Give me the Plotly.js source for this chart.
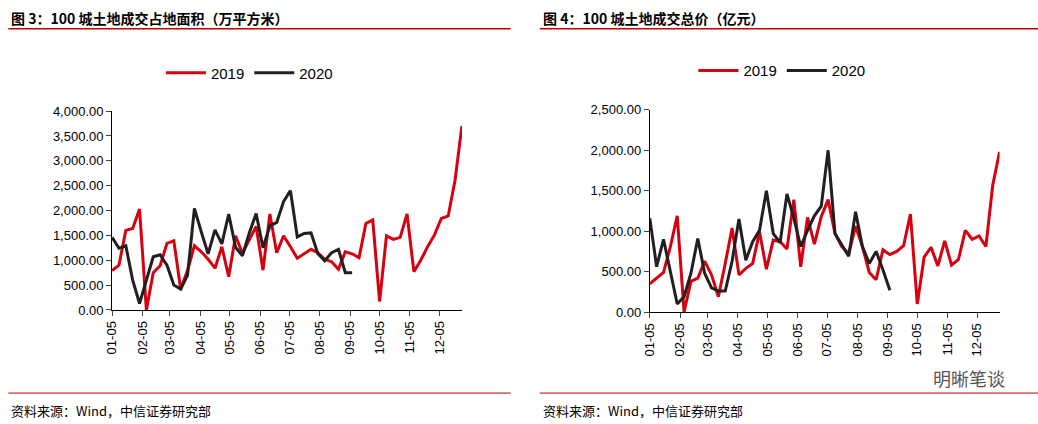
<!DOCTYPE html>
<html><head><meta charset="utf-8">
<script src="https://cdn.plot.ly/plotly-3.0.1.min.js"></script>
<style>body{margin:0;background:#fff}#c{width:1038px;height:424px}</style>
</head><body><div id="c"></div>
<script>
// 100城土地成交占地面积（万平方米），周度
var area2019 = [790,900,1600,1640,2030,0,750,890,1340,1390,420,800,1290,1170,1020,840,1270,670,1490,1140,1410,1680,800,1930,1150,1490,1270,1040,1130,1220,1150,1020,970,820,1170,1130,1050,1740,1810,170,1490,1420,1460,1930,770,1000,1270,1510,1840,1890,2610,3700];
var area2020 = [1460,1240,1290,600,130,600,1070,1110,900,500,420,700,2040,1570,1130,1610,1330,1930,1260,1090,1550,1940,1250,1690,1760,2180,2400,1470,1540,1550,1130,990,1150,1220,750,750];
// 100城土地成交总价（亿元）
var price2019 = [350,420,490,810,1190,0,380,420,630,460,190,600,1040,460,540,600,990,530,890,870,780,1390,560,1170,840,1180,1390,970,810,720,1060,810,490,400,770,710,750,820,1210,100,680,800,570,880,580,650,1010,900,940,810,1570,1980];
var price2020 = [1160,560,900,520,100,190,480,910,480,300,260,260,630,1150,640,870,1010,1500,970,860,1460,1160,810,1010,1190,1310,2000,970,830,690,1240,810,600,750,520,270];
var tickText = ['01-05','02-05','03-05','04-05','05-05','06-05','07-05','08-05','09-05','10-05','11-05','12-05'];

function weeks(n) {
  var out = [];
  for (var i = 0; i < n; i++) {
    var d = new Date(Date.UTC(2019, 0, 5 + 7 * i));
    out.push(d.toISOString().slice(0, 10));
  }
  return out;
}
var tickVals = tickText.map(function (t) { return '2019-' + t; });

var red = '#d7000f', black = '#231f20';
var font = {family: 'Arial, Liberation Sans, sans-serif', size: 13, color: '#000'};

function xaxis(dom) {
  return {domain: dom, type: 'date', range: ['2019-01-05', '2019-12-28'],
    tickvals: tickVals, ticktext: tickText, tickangle: -90, ticks: 'outside', ticklen: 5,
    showgrid: false, zeroline: false, showline: true, linecolor: '#000', linewidth: 1, tickfont: font};
}
function yaxis(dom, max, dt, anchor) {
  return {domain: dom, range: [0, max], dtick: dt, tickformat: ',.2f', ticks: 'outside', ticklen: 5,
    showgrid: false, zeroline: false, showline: true, linecolor: '#000', linewidth: 1, tickfont: font, anchor: anchor};
}

var ln = {width: 3};
var data = [
  {x: weeks(52), y: area2019, name: '2019', mode: 'lines', line: {color: red, width: 3}, xaxis: 'x', yaxis: 'y', legend: 'legend'},
  {x: weeks(36), y: area2020, name: '2020', mode: 'lines', line: {color: black, width: 3}, xaxis: 'x', yaxis: 'y', legend: 'legend'},
  {x: weeks(52), y: price2019, name: '2019', mode: 'lines', line: {color: red, width: 3}, xaxis: 'x2', yaxis: 'y2', legend: 'legend2'},
  {x: weeks(36), y: price2020, name: '2020', mode: 'lines', line: {color: black, width: 3}, xaxis: 'x2', yaxis: 'y2', legend: 'legend2'}
];

var legBase = {orientation: 'h', yanchor: 'middle', xanchor: 'left', font: {family: 'Arial, Liberation Sans, sans-serif', size: 15, color: '#000'}, bgcolor: 'rgba(0,0,0,0)', itemwidth: 40};
var layout = {
  width: 1038, height: 424, margin: {l: 0, r: 0, t: 0, b: 0},
  paper_bgcolor: '#fff', plot_bgcolor: '#fff', showlegend: true,
  xaxis: Object.assign(xaxis([0.108, 0.445]), {anchor: 'y'}),
  yaxis: yaxis([0.269, 0.738], 4000, 500, 'x'),
  xaxis2: Object.assign(xaxis([0.626, 0.963]), {anchor: 'y2'}),
  yaxis2: yaxis([0.264, 0.741], 2500, 500, 'x2'),
  legend: Object.assign({x: 0.155, y: 0.828}, legBase),
  legend2: Object.assign({x: 0.668, y: 0.833}, legBase),
  shapes: [
    {type: 'line', xref: 'paper', yref: 'paper', x0: 0.008, x1: 0.492, y0: 0.932, y1: 0.932, line: {color: '#c00000', width: 1.5}},
    {type: 'line', xref: 'paper', yref: 'paper', x0: 0.52, x1: 1.0, y0: 0.932, y1: 0.932, line: {color: '#c00000', width: 1.5}},
    {type: 'line', xref: 'paper', yref: 'paper', x0: 0.008, x1: 0.492, y0: 0.073, y1: 0.073, line: {color: '#c00000', width: 1}},
    {type: 'line', xref: 'paper', yref: 'paper', x0: 0.52, x1: 1.0, y0: 0.073, y1: 0.073, line: {color: '#c00000', width: 1}}
  ],
  annotations: [
    {text: '<b>图 3：100 城土地成交占地面积（万平方米）</b>', x: 0.009, y: 0.958, xref: 'paper', yref: 'paper', xanchor: 'left', yanchor: 'middle', showarrow: false, font: {family: 'Noto Sans CJK SC', size: 14, color: '#000'}},
    {text: '<b>图 4：100 城土地成交总价（亿元）</b>', x: 0.521, y: 0.958, xref: 'paper', yref: 'paper', xanchor: 'left', yanchor: 'middle', showarrow: false, font: {family: 'Noto Sans CJK SC', size: 14, color: '#000'}},
    {text: '资料来源：Wind，中信证券研究部', x: 0.009, y: 0.033, xref: 'paper', yref: 'paper', xanchor: 'left', yanchor: 'middle', showarrow: false, font: {family: 'Noto Sans CJK SC', size: 13, color: '#000'}},
    {text: '资料来源：Wind，中信证券研究部', x: 0.521, y: 0.033, xref: 'paper', yref: 'paper', xanchor: 'left', yanchor: 'middle', showarrow: false, font: {family: 'Noto Sans CJK SC', size: 13, color: '#000'}},
    {text: '明晰笔谈', x: 0.97, y: 0.108, xref: 'paper', yref: 'paper', xanchor: 'right', yanchor: 'middle', showarrow: false, font: {family: 'Noto Sans CJK SC', size: 18, color: '#555'}}
  ]
};
Plotly.newPlot('c', data, layout, {staticPlot: true});
</script></body></html>
